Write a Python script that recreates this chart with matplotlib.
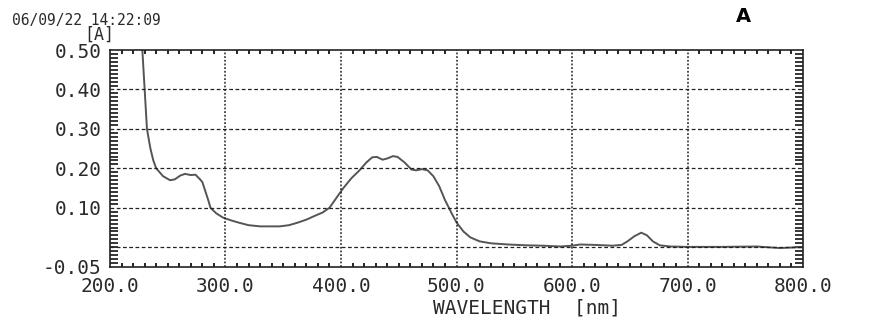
import matplotlib
matplotlib.use("Agg")
import matplotlib.pyplot as plt
from matplotlib.ticker import MultipleLocator

# spectrum (nm, absorbance)
wavelength = [226, 228, 230, 232, 235, 237.5, 240, 246, 252, 256, 261, 265, 270, 274,
              278, 280, 282, 285, 287, 292, 298, 305, 312, 320, 330, 340, 347, 355,
              362, 370, 376, 384, 390, 396, 402, 409, 416, 422, 427, 431, 436, 440,
              445, 449, 455, 461, 465, 470, 475, 480, 485, 490, 496, 500, 506, 512,
              520, 530, 545, 560, 575, 590, 600, 607, 620, 635, 643, 648, 654, 660,
              665, 670, 676, 685, 700, 730, 760, 780, 795, 800]
absorbance = [0.58, 0.50, 0.40, 0.30, 0.25, 0.22, 0.20, 0.18, 0.17, 0.172, 0.182, 0.186,
              0.183, 0.184, 0.172, 0.165, 0.147, 0.12, 0.10, 0.086, 0.075, 0.068, 0.062,
              0.056, 0.053, 0.053, 0.053, 0.056, 0.062, 0.07, 0.078, 0.088, 0.10, 0.125,
              0.15, 0.175, 0.195, 0.215, 0.228, 0.229, 0.222, 0.225, 0.231, 0.229, 0.215,
              0.197, 0.195, 0.198, 0.195, 0.18, 0.155, 0.12, 0.085, 0.063, 0.04, 0.025,
              0.015, 0.01, 0.007, 0.005, 0.004, 0.002, 0.004, 0.007, 0.006, 0.004, 0.006,
              0.015, 0.028, 0.037, 0.03, 0.015, 0.005, 0.002, 0.001, 0.001, 0.002,
              -0.002, 0.0, 0.0]

x_ticks = [200, 300, 400, 500, 600, 700, 800]
y_ticks = [-0.05, 0.10, 0.20, 0.30, 0.40, 0.50]
y_grid = [0.0, 0.1, 0.2, 0.3, 0.4]

mono = "DejaVu Sans Mono"
ink = "#2a2a2a"

fig = plt.figure(figsize=(8.85, 3.2), dpi=100)
ax = fig.add_axes([110 / 885, 1 - 267 / 320, 693 / 885, 217 / 320])

ax.plot(wavelength, absorbance, color="#555555", lw=1.4)
ax.set_xlim(200, 800)
ax.set_ylim(-0.05, 0.50)

for g in y_grid:
    ax.axhline(g, color="#222222", lw=0.9, ls=(0, (3, 2)))
for g in x_ticks[1:-1]:
    ax.axvline(g, color="#222222", lw=1.1, ls=(0, (1.2, 1.2)))

ax.set_xticks(x_ticks)
ax.set_xticklabels(["%.1f" % v for v in x_ticks])
ax.set_yticks(y_ticks)
ax.set_yticklabels(["%.2f" % v for v in y_ticks])
ax.xaxis.set_minor_locator(MultipleLocator(10))
ax.yaxis.set_minor_locator(MultipleLocator(0.01))
ax.tick_params(axis="y", which="major", length=0, pad=6, labelsize=14, labelcolor=ink)
ax.tick_params(axis="x", which="major", length=0, pad=7, labelsize=14, labelcolor=ink)
ax.tick_params(axis="y", which="minor", direction="in", length=6, width=1.1,
               left=True, right=True)
ax.tick_params(axis="x", which="minor", direction="in", length=3, width=1.2,
               bottom=True, top=True)
for lab in ax.get_xticklabels() + ax.get_yticklabels():
    lab.set_family(mono)
for s in ax.spines.values():
    s.set_linewidth(1.2)
    s.set_color("#222222")

fig.text(12 / 885, 1 - 20 / 320, "06/09/22 14:22:09", family=mono, fontsize=10.5,
         color=ink, va="center", ha="left")
fig.text(99 / 885, 1 - 35 / 320, "[A]", family=mono, fontsize=12, color=ink,
         va="center", ha="center")
fig.text(743 / 885, 1 - 16 / 320, "A", fontsize=14, weight="heavy", color="black",
         va="center", ha="center")
fig.text(527 / 885, 1 - 308 / 320, "WAVELENGTH  [nm]", family=mono, fontsize=14,
         color=ink, va="center", ha="center")

fig.savefig("out.png", dpi=100)
